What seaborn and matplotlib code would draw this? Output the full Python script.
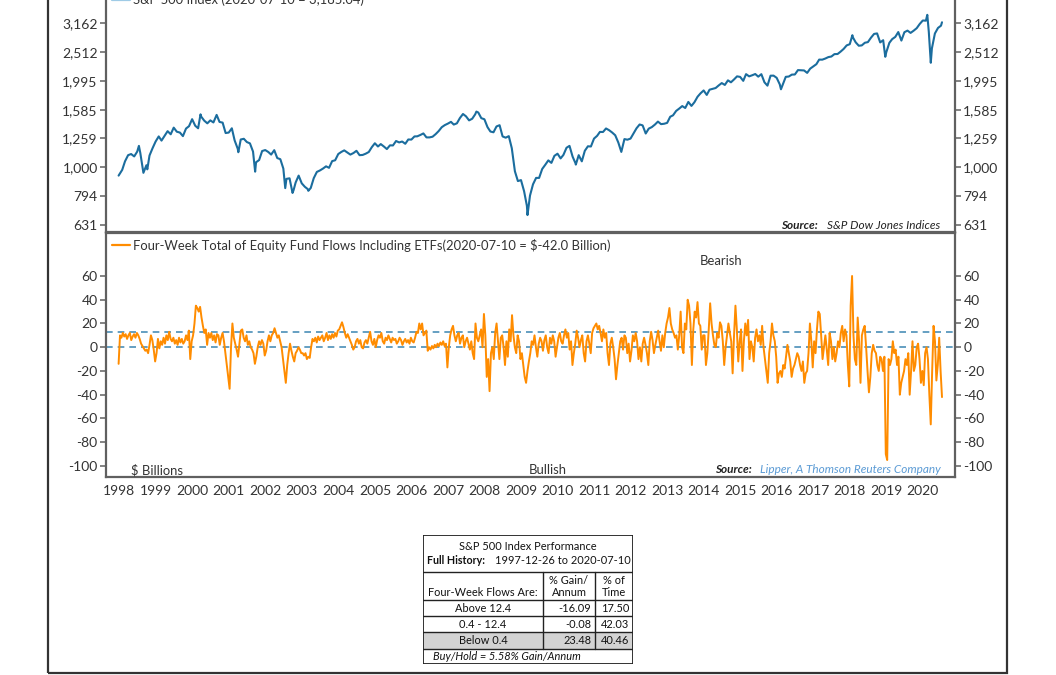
import numpy as np
import pandas as pd
import matplotlib
matplotlib.use("Agg")
import matplotlib.pyplot as plt
import matplotlib.dates as mdates
from matplotlib.lines import Line2D
from matplotlib.patches import Rectangle
from matplotlib.ticker import NullLocator, FixedLocator
import seaborn as sns

# ---- S&P 500 index, month-end closes (first point 1997-12-26, last 2020-07-10)
spx_first = 936
spx_1998 = [980, 1049, 1102, 1112, 1091, 1134, 1121, 957, 1017, 1099, 1164, 1229]
spx_1999 = [1280, 1238, 1286, 1335, 1302, 1373, 1329, 1320, 1283, 1363, 1389, 1469]
spx_2000 = [1394, 1366, 1499, 1452, 1421, 1455, 1431, 1518, 1437, 1429, 1315, 1320]
spx_2001 = [1366, 1240, 1160, 1249, 1256, 1224, 1211, 1134, 1041, 1060, 1139, 1148]
spx_2002 = [1130, 1107, 1147, 1077, 1067, 990, 912, 916, 815, 886, 936, 880]
spx_2003 = [856, 841, 848, 917, 964, 975, 990, 1008, 996, 1051, 1058, 1112]
spx_2004 = [1131, 1145, 1126, 1107, 1121, 1141, 1102, 1104, 1115, 1130, 1174, 1212]
spx_2005 = [1181, 1204, 1181, 1157, 1192, 1191, 1234, 1220, 1229, 1207, 1249, 1248]
spx_2006 = [1280, 1281, 1295, 1311, 1270, 1270, 1277, 1304, 1336, 1378, 1401, 1418]
spx_2007 = [1438, 1407, 1421, 1482, 1531, 1503, 1455, 1474, 1527, 1549, 1481, 1468]
spx_2008 = [1379, 1331, 1323, 1386, 1400, 1280, 1267, 1283, 1165, 969, 896, 903]
spx_2009 = [826, 735, 798, 873, 919, 919, 987, 1021, 1057, 1036, 1096, 1115]
spx_2010 = [1074, 1104, 1169, 1187, 1089, 1031, 1102, 1049, 1141, 1183, 1181, 1258]
spx_2011 = [1286, 1327, 1326, 1364, 1345, 1321, 1292, 1219, 1131, 1253, 1247, 1258]
spx_2012 = [1312, 1366, 1408, 1398, 1310, 1362, 1379, 1407, 1441, 1412, 1416, 1426]
spx_2013 = [1498, 1515, 1569, 1598, 1631, 1606, 1686, 1633, 1682, 1757, 1806, 1848]
spx_2014 = [1783, 1859, 1872, 1884, 1924, 1960, 1931, 2003, 1972, 2018, 2068, 2059]
spx_2015 = [1995, 2105, 2068, 2086, 2107, 2063, 2104, 1972, 1920, 2079, 2080, 2044]
spx_2016 = [1940, 1932, 2060, 2065, 2097, 2099, 2174, 2171, 2168, 2126, 2199, 2239]
spx_2017 = [2279, 2364, 2363, 2384, 2412, 2423, 2470, 2472, 2519, 2575, 2648, 2674]
spx_2018 = [2824, 2714, 2641, 2648, 2705, 2718, 2816, 2902, 2914, 2712, 2760, 2507]
spx_2019 = [2704, 2784, 2834, 2946, 2752, 2942, 2980, 2926, 2977, 3038, 3141, 3231]
spx_2020 = [3226, 2954, 2585, 2912, 3044, 3100]
spx_last = 3185.04

# a few weekly closes at the turning points
spx_extra_dates = ["1998-07-17", "1998-10-09", "2000-03-24", "2000-09-01", "2001-04-06",
                   "2001-09-21", "2002-07-19", "2002-10-11", "2003-03-07", "2007-10-12",
                   "2009-03-06", "2010-07-02", "2016-02-12", "2018-01-26", "2018-12-21",
                   "2020-02-14", "2020-03-20"]
spx_extra_vals = [1187, 984, 1527, 1520, 1128, 966, 847, 835, 829, 1561,
                  683, 1022, 1865, 2873, 2417, 3380, 2305]

# ---- four-week equity fund flows, $ billions (roughly every two weeks)
flows_first = -14
flows_1998 = [10, 8, 12, 9, 11, 7, 10, 12, 6, 9, 11, 8, 12, 10, 7, 3, 1, -1, -3, -2, -5, 2, 10, 6, -2, -12]
flows_1999 = [-5, 7, -1, 5, 2, 8, 3, 10, 6, 13, 7, 5, 8, 3, 6, 2, 8, 4, 7, 3, 5, 10, 6, 14, -10, 5]
flows_2000 = [10, 20, 35, 33, 30, 34, 25, 18, 12, 15, 2, 12, 8, 12, 6, 10, 4, 11, 10, 2, 8, 12, 5, -5, -15, -25]
flows_2001 = [-35, 0, 20, 8, 3, -2, -8, 3, 14, 15, 8, 5, 10, 2, 5, 0, -2, -5, -14, -8, 0, 5, 2, 6, 3, -7]
flows_2002 = [-3, 5, 10, 5, 10, 12, 16, 12, 8, 10, 5, 0, -10, -20, -30, -15, -5, 3, -3, -8, -12, -5, -3, 0, -2, -5]
flows_2003 = [-5, -7, -5, -10, -8, -9, 0, 7, 5, 8, 4, 9, 6, 8, 10, 5, 8, 12, 6, 10, 7, 11, 8, 12, 9, 14]
flows_2004 = [15, 18, 21, 17, 12, 8, 11, 8, 5, 2, -2, 0, 5, 7, 3, 6, 0, -1, 4, 6, 3, 8, 13, 5, 2, 7]
flows_2005 = [0, 6, 10, 8, 12, 5, 3, 8, 6, 10, 7, 4, 8, 6, 7, 3, 5, 8, 6, 2, 5, 7, 4, 6, 3, 8]
flows_2006 = [5, 4, 8, 13, 12, 20, 15, 20, 10, 12, 14, -3, 0, -2, 1, -1, 2, 0, 3, 1, 4, 2, 5, 1, 3, -17]
flows_2007 = [0, 10, 15, 18, 10, 5, 10, 12, 3, 8, 10, 0, 5, 8, 3, -2, 5, -5, -10, 20, 8, 5, 10, 15, 0, 28]
flows_2008 = [10, -25, -10, -37, -5, 0, -10, 12, 20, 5, -10, 8, 10, 0, -15, 5, -8, 15, 5, 27, 10, 0, -5, 10, 5, -10]
flows_2009 = [-5, -15, -25, -30, -20, -12, -5, 5, 2, 10, 0, -8, 3, 8, 5, -3, 6, 10, 0, -5, 8, 3, 10, 5, -8, 0]
flows_2010 = [8, 12, 5, 3, 10, 15, 8, 12, -2, 5, -15, -5, 3, 14, 8, 0, 6, 10, -5, -12, 5, 10, 3, -5, 12, 16]
flows_2011 = [18, 20, 15, 18, 12, 5, 15, 8, 12, -5, -15, 3, 8, 0, -10, -27, -15, -5, 5, 8, -2, 10, 8, -5, 3, -12]
flows_2012 = [-3, 10, 5, 12, 5, -10, 0, -12, 3, 8, 2, -5, -15, 5, 13, 6, -5, 2, 8, 14, 5, -3, 10, 0, 12, 20]
flows_2013 = [25, 33, 20, 15, 12, 8, 10, -2, 10, 30, 0, -5, 20, 15, 40, 35, 20, -15, 15, 30, 25, 38, 20, 18, -2, 10]
flows_2014 = [10, -15, -5, 15, 37, 20, 10, 2, 0, 12, 8, 21, 18, 5, -15, 0, 10, 20, 12, 5, -22, 10, 35, 15, -12, 5]
flows_2015 = [15, -20, 5, 20, 10, 23, -10, 5, 0, -12, 8, 15, 5, 10, 2, 18, 0, -10, -20, -30, -5, 5, 20, 10, 5, -8]
flows_2016 = [-30, -22, -20, -25, -15, -18, -8, 2, -5, -12, -25, -18, -15, -10, -5, -8, -15, -20, -12, -30, -22, -20, -5, 20, 5, -17]
flows_2017 = [5, -5, 15, 30, 28, 10, -10, 0, 10, -2, -15, 12, 5, -10, 0, -12, -5, 5, 0, 12, 18, 5, 15, 10, -15, -33]
flows_2018 = [35, 60, 10, -10, -15, 25, 5, -30, 10, 15, 18, 0, -20, -38, -25, -5, 2, -3, -5, -15, -20, -8, -10, -20, -8, -90]
flows_2019 = [-95, -10, -15, -10, 5, -5, -2, -15, -8, -40, -30, -25, -20, -10, -15, -5, -40, -20, 5, -20, -15, 0, 3, -10, -30, -20]
flows_2020 = [-32, -5, 0, -10, -40, -65, -20, 18, 5, -28, -15, 8, -20, -42]

upper_band = 12.4
lower_band = 0.4

spx_ticks = [631, 794, 1000, 1259, 1585, 1995, 2512, 3162]
spx_tick_labels = ["631", "794", "1,000", "1,259", "1,585", "1,995", "2,512", "3,162"]
flow_ticks = [-100, -80, -60, -40, -20, 0, 20, 40, 60]
flow_tick_labels = ["-100", "-80", "-60", "-40", "-20", "0", "20", "40", "60"]

table_title = "S&P 500 Index Performance"
table_range = "1997-12-26 to 2020-07-10"
table_rows = ["Above 12.4", "0.4 - 12.4", "Below 0.4"]
table_gain = ["-16.09", "-0.08", "23.48"]
table_time = ["17.50", "42.03", "40.46"]
table_footer = "Buy/Hold = 5.58% Gain/Annum"

# ---- assemble frames
spx_vals = [spx_first]
for yr in [spx_1998, spx_1999, spx_2000, spx_2001, spx_2002, spx_2003, spx_2004,
           spx_2005, spx_2006, spx_2007, spx_2008, spx_2009, spx_2010, spx_2011,
           spx_2012, spx_2013, spx_2014, spx_2015, spx_2016, spx_2017, spx_2018,
           spx_2019, spx_2020]:
    spx_vals += yr
spx_vals.append(spx_last)
month_ends = pd.date_range("1998-02-01", "2020-07-01", freq="MS") - pd.Timedelta(days=1)
spx_dates = [pd.Timestamp("1997-12-26")] + list(month_ends) + [pd.Timestamp("2020-07-10")]
spx = pd.DataFrame({"date": spx_dates, "value": spx_vals})
spx = pd.concat([spx, pd.DataFrame({"date": pd.to_datetime(spx_extra_dates),
                                    "value": spx_extra_vals})])
spx = spx.sort_values("date").reset_index(drop=True)

flow_vals = [flows_first]
for yr in [flows_1998, flows_1999, flows_2000, flows_2001, flows_2002, flows_2003,
           flows_2004, flows_2005, flows_2006, flows_2007, flows_2008, flows_2009,
           flows_2010, flows_2011, flows_2012, flows_2013, flows_2014, flows_2015,
           flows_2016, flows_2017, flows_2018, flows_2019, flows_2020]:
    flow_vals += yr
flows = pd.DataFrame({
    "date": pd.date_range("1997-12-26", "2020-07-10", periods=len(flow_vals)),
    "value": flow_vals,
})

# ---- style
sns.set_style("white")
plt.rcParams["font.family"] = ["Lato", "DejaVu Sans"]
TXT = "#333333"
SPINE = "#606060"
BLUE = "#1b6d9e"
ORANGE = "#ff8c00"
DASH = "#4a8fb8"

W, H = 1056, 675
fig = plt.figure(figsize=(W / 100, H / 100), dpi=100)

def box(x0, y0, x1, y1):
    return [x0 / W, 1 - y1 / H, (x1 - x0) / W, (y1 - y0) / H]

ax1 = fig.add_axes(box(106, -12, 955, 232))
ax2 = fig.add_axes(box(106, 233, 955, 477))

xmin, xmax = pd.Timestamp("1997-08-22"), pd.Timestamp("2020-11-17")

sns.lineplot(data=spx, x="date", y="value", ax=ax1, color=BLUE, linewidth=1.5)
ax1.set_yscale("log")
ax1.set_ylim(596.6, 4188)
ax1.yaxis.set_major_locator(FixedLocator(spx_ticks))
ax1.yaxis.set_minor_locator(NullLocator())
ax1.set_yticklabels(spx_tick_labels)
ax1.set_xlim(xmin, xmax)
ax1.tick_params(axis="x", which="both", bottom=False, labelbottom=False)

sns.lineplot(data=flows, x="date", y="value", ax=ax2, color=ORANGE, linewidth=1.4)
for lvl in [upper_band, lower_band]:
    ax2.axhline(lvl, color=DASH, linewidth=1.2, linestyle=(0, (4, 3)), zorder=1)
ax2.set_ylim(-109.3, 96.2)
ax2.yaxis.set_major_locator(FixedLocator(flow_ticks))
ax2.set_yticklabels(flow_tick_labels)
ax2.set_xlim(xmin, xmax)
ax2.xaxis.set_major_locator(mdates.YearLocator())
ax2.xaxis.set_minor_locator(mdates.MonthLocator(bymonth=[4, 7, 10]))
ax2.xaxis.set_major_formatter(mdates.DateFormatter("%Y"))
ax2.tick_params(axis="x", which="both", direction="out", length=4, width=1.1,
                color=SPINE, labelsize=10, labelcolor=TXT, pad=2)

for ax in (ax1, ax2):
    ax.set_xlabel("")
    ax.set_ylabel("")
    ax.tick_params(axis="y", which="both", left=True, right=True, labelleft=True,
                   labelright=True, direction="out", length=4, width=1.1,
                   color=SPINE, labelsize=10, labelcolor=TXT, pad=2)
    for s in ax.spines.values():
        s.set_visible(True)
        s.set_color(SPINE)
        s.set_linewidth(1.6)

# legends
leg_kw = dict(loc="upper left", frameon=False, handlelength=1.35, handletextpad=0.3,
              borderaxespad=0.0, borderpad=0.45, fontsize=9.4, labelcolor=TXT)
ax1.legend(handles=[Line2D([], [], color="#9fcbe6", linewidth=1.6)],
           labels=["S&P 500 Index (2020-07-10 = 3,185.04)"], **leg_kw)
ax2.legend(handles=[Line2D([], [], color=ORANGE, linewidth=1.6)],
           labels=["Four-Week Total of Equity Fund Flows Including ETFs(2020-07-10 = $-42.0 Billion)"],
           **leg_kw)

# annotations
ax1.text(0.8386, 0.0246, "Source:", transform=ax1.transAxes, ha="right", va="center",
         fontsize=8.5, fontweight="bold", fontstyle="italic", color="#222222")
ax1.text(0.9823, 0.0246, "S&P Dow Jones Indices", transform=ax1.transAxes, ha="right",
         va="center", fontsize=8.5, fontstyle="italic", color="#222222")
ax2.text(0.761, 0.0287, "Source:", transform=ax2.transAxes, ha="right", va="center",
         fontsize=8.5, fontweight="bold", fontstyle="italic", color="#222222")
ax2.text(0.9835, 0.0287, "Lipper, A Thomson Reuters Company", transform=ax2.transAxes,
         ha="right", va="center", fontsize=8.5, fontstyle="italic", color="#5b9bd5")
ax2.text(0.724, 0.885, "Bearish", transform=ax2.transAxes, ha="center", va="center",
         fontsize=9.4, color=TXT)
ax2.text(0.5206, 0.0287, "Bullish", transform=ax2.transAxes, ha="center", va="center",
         fontsize=9.4, color=TXT)
ax2.text(0.0294, 0.0287, "$ Billions", transform=ax2.transAxes, ha="left", va="center",
         fontsize=9.4, color=TXT)

# outer frame
fig.patches.append(Rectangle((48 / W, 2 / H), (1007 - 48) / W, 1.2, transform=fig.transFigure,
                             fill=False, edgecolor="#333333", linewidth=1.6, clip_on=False))

# performance table
axt = fig.add_axes(box(423, 535, 633, 664))
axt.set_xlim(0, 210)
axt.set_ylim(129, 0)
axt.axis("off")
axt.add_patch(Rectangle((0, 97), 210, 17, facecolor="#d3d3d3", edgecolor="none"))
axt.add_patch(Rectangle((0, 0), 210, 129, fill=False, edgecolor="#222222", linewidth=1.3))
for yy in [37, 65, 81, 97, 114]:
    axt.plot([0, 210], [yy, yy], color="#222222", linewidth=1.0)
for xx in [120, 172]:
    axt.plot([xx, xx], [37, 114], color="#222222", linewidth=1.0)
fs = 7.9
axt.text(105, 11, table_title, ha="center", va="center", fontsize=fs, color="#111111")
axt.text(4, 28.5, "Full History:", ha="left", va="baseline", fontsize=7.7, fontweight="bold",
         color="#111111")
axt.text(72, 28.5, table_range, ha="left", va="baseline", fontsize=fs, color="#111111")
axt.text(60, 57, "Four-Week Flows Are:", ha="center", va="center", fontsize=fs, color="#111111")
axt.text(146, 45, "% Gain/", ha="center", va="center", fontsize=fs, color="#111111")
axt.text(146, 57, "Annum", ha="center", va="center", fontsize=fs, color="#111111")
axt.text(191, 45, "% of", ha="center", va="center", fontsize=fs, color="#111111")
axt.text(191, 57, "Time", ha="center", va="center", fontsize=fs, color="#111111")
for i, (lab, g, t) in enumerate(zip(table_rows, table_gain, table_time)):
    yc = [73, 89, 105.5][i]
    axt.text(60, yc, lab, ha="center", va="center", fontsize=fs, color="#111111")
    axt.text(168, yc, g, ha="right", va="center", fontsize=fs, color="#111111")
    axt.text(206, yc, t, ha="right", va="center", fontsize=fs, color="#111111")
axt.text(10, 121.5, table_footer, ha="left", va="center", fontsize=fs, fontstyle="italic",
         color="#111111")

fig.savefig("out.png", dpi=100)
